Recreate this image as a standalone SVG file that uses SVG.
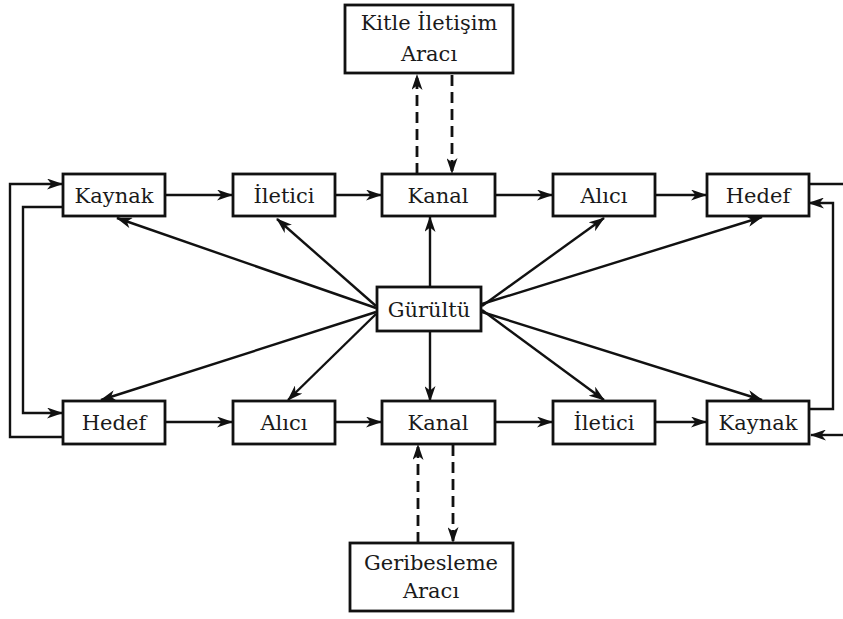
<svg xmlns="http://www.w3.org/2000/svg" width="843" height="619" viewBox="0 0 843 619">
<defs>
<style>
.box{fill:#fff;stroke:#111;stroke-width:2.8}
.t{font-family:"DejaVu Serif","Liberation Serif",serif;font-size:21px;fill:#1a1a1a;text-anchor:middle}
.c{fill:none;stroke:#111;stroke-width:2.4}
.d{fill:none;stroke:#111;stroke-width:2.8;stroke-dasharray:11 6}
</style>
<marker id="a" viewBox="0 0 16 11" refX="15" refY="5.5" markerWidth="16" markerHeight="11" markerUnits="userSpaceOnUse" orient="auto">
<path d="M0,0 L16,5.5 L0,11 L4.5,5.5 z" fill="#111"/>
</marker>
</defs>
<rect width="843" height="619" fill="#fff"/>
<g id="connectors">
<line class="c" x1="165" y1="195" x2="232" y2="195" marker-end="url(#a)"/>
<line class="c" x1="335" y1="195" x2="381" y2="195" marker-end="url(#a)"/>
<line class="c" x1="495" y1="195" x2="552" y2="195" marker-end="url(#a)"/>
<line class="c" x1="655" y1="195" x2="706" y2="195" marker-end="url(#a)"/>
<line class="c" x1="165" y1="422" x2="232" y2="422" marker-end="url(#a)"/>
<line class="c" x1="335" y1="422" x2="381" y2="422" marker-end="url(#a)"/>
<line class="c" x1="495" y1="422" x2="552" y2="422" marker-end="url(#a)"/>
<line class="c" x1="655" y1="422" x2="706" y2="422" marker-end="url(#a)"/>
<polyline class="c" points="63,437 10,437 10,184 62,184" marker-end="url(#a)"/>
<polyline class="c" points="63,207 23,207 23,413 62,413" marker-end="url(#a)"/>
<line class="c" x1="808" y1="184" x2="843" y2="184"/>
<polyline class="c" points="810,409 833,409 833,203 809,203" marker-end="url(#a)"/>
<line class="c" x1="843" y1="435" x2="811" y2="435" marker-end="url(#a)"/>
<line class="c" x1="376" y1="308" x2="117" y2="218" marker-end="url(#a)"/>
<line class="c" x1="376" y1="306" x2="277" y2="219" marker-end="url(#a)"/>
<line class="c" x1="376" y1="312" x2="101" y2="400" marker-end="url(#a)"/>
<line class="c" x1="376" y1="314" x2="288" y2="400" marker-end="url(#a)"/>
<line class="c" x1="482" y1="306" x2="604" y2="218" marker-end="url(#a)"/>
<line class="c" x1="482" y1="304" x2="762" y2="217" marker-end="url(#a)"/>
<line class="c" x1="482" y1="310" x2="604" y2="400" marker-end="url(#a)"/>
<line class="c" x1="482" y1="312" x2="762" y2="400" marker-end="url(#a)"/>
<line class="c" x1="430" y1="287" x2="430" y2="217" marker-end="url(#a)"/>
<line class="c" x1="430" y1="331" x2="430" y2="401" marker-end="url(#a)"/>
<line class="d" x1="417" y1="174" x2="417" y2="75" marker-end="url(#a)"/>
<line class="d" x1="452" y1="75" x2="452" y2="173" marker-end="url(#a)"/>
<line class="d" x1="418" y1="543" x2="418" y2="445" marker-end="url(#a)"/>
<line class="d" x1="453" y1="445" x2="453" y2="542" marker-end="url(#a)"/>
</g>
<g id="kitle"><rect class="box" x="345" y="5" width="168" height="68"/><text class="t" x="429" y="30">Kitle İletişim</text><text class="t" x="429" y="61">Aracı</text></g>
<g id="kaynak1"><rect class="box" x="63" y="174" width="102" height="42"/><text class="t" x="114" y="203">Kaynak</text></g>
<g id="iletici1"><rect class="box" x="233" y="174" width="102" height="42"/><text class="t" x="284" y="203">İletici</text></g>
<g id="kanal1"><rect class="box" x="382" y="174" width="113" height="42"/><text class="t" x="438" y="203">Kanal</text></g>
<g id="alici1"><rect class="box" x="553" y="174" width="102" height="42"/><text class="t" x="604" y="203">Alıcı</text></g>
<g id="hedef1"><rect class="box" x="707" y="174" width="102" height="42"/><text class="t" x="758" y="203">Hedef</text></g>
<g id="gurultu"><rect class="box" x="377" y="287" width="104" height="44"/><text class="t" x="429" y="317">Gürültü</text></g>
<g id="hedef2"><rect class="box" x="63" y="401" width="102" height="43"/><text class="t" x="114" y="430">Hedef</text></g>
<g id="alici2"><rect class="box" x="233" y="401" width="102" height="43"/><text class="t" x="284" y="430">Alıcı</text></g>
<g id="kanal2"><rect class="box" x="382" y="401" width="113" height="43"/><text class="t" x="438" y="430">Kanal</text></g>
<g id="iletici2"><rect class="box" x="553" y="401" width="102" height="43"/><text class="t" x="604" y="430">İletici</text></g>
<g id="kaynak2"><rect class="box" x="707" y="401" width="102" height="43"/><text class="t" x="758" y="430">Kaynak</text></g>
<g id="geribesleme"><rect class="box" x="350" y="543" width="163" height="68"/><text class="t" x="431" y="570">Geribesleme</text><text class="t" x="431" y="598">Aracı</text></g>
</svg>
